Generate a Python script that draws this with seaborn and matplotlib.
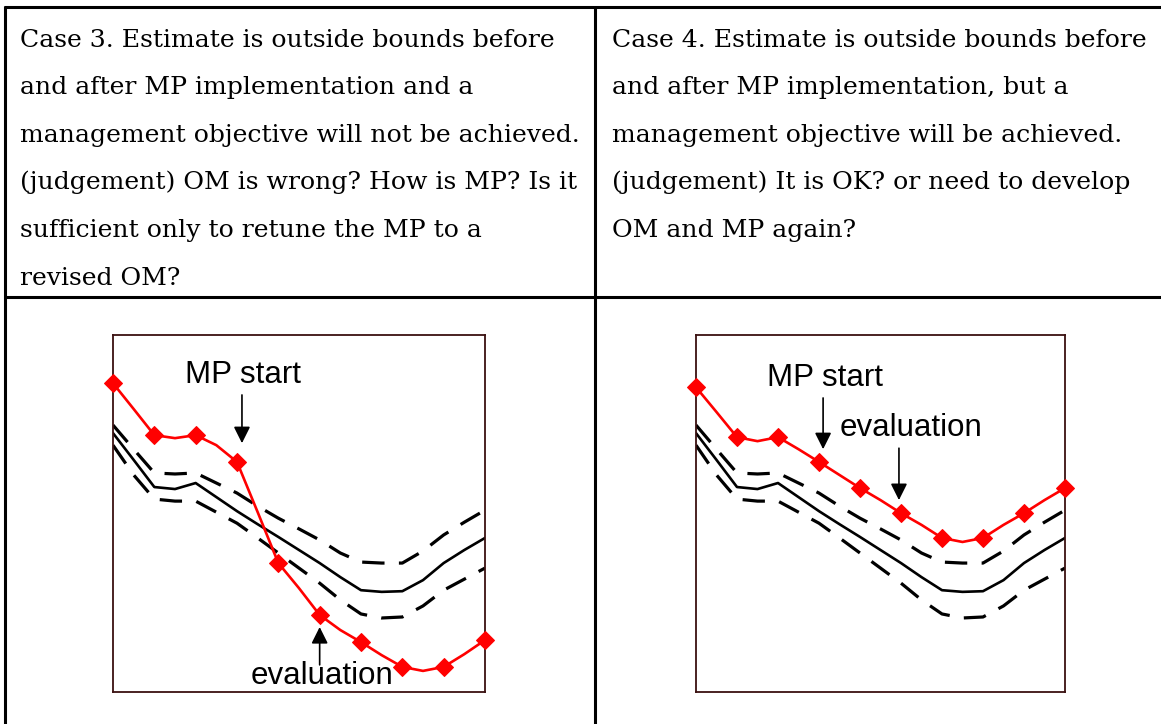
import matplotlib
matplotlib.use('Agg')
import matplotlib.pyplot as plt
from matplotlib.lines import Line2D
import seaborn as sns

# time steps along the x axis
years = [0, 1, 2, 3, 4, 5, 6, 7, 8, 9, 10, 11, 12, 13, 14, 15, 16, 17, 18]

# operating model bounds (same in both cases)
upper = [79.7, 72.5, 65.4, 65.1, 65.4, 62.4, 59.4, 55.5, 51.9, 48.7,
         45.4, 41.5, 38.8, 38.5, 38.5, 42.1, 46.9, 50.7, 54.3]
median = [77.3, 69.3, 61.2, 60.6, 62.4, 58.2, 54.0, 50.1, 46.3, 42.4,
          38.5, 34.3, 30.4, 29.9, 30.1, 33.4, 38.5, 42.4, 46.0]
lower = [73.7, 64.8, 57.6, 57.0, 57.0, 53.7, 50.4, 46.0, 41.5, 37.0,
         32.5, 27.5, 23.3, 22.1, 22.4, 25.7, 30.4, 33.7, 37.0]

# estimates
est_case3 = [92.2, 84.5, 76.7, 75.8, 76.7, 73.7, 68.7, 53.7, 38.5, 31.0,
             23.0, 18.5, 14.9, 11.0, 7.5, 6.3, 7.5, 11.3, 15.5]
est_case4 = [91.0, 83.6, 76.1, 74.9, 76.1, 72.5, 68.7, 64.8, 60.9, 57.3,
             53.4, 49.9, 46.0, 44.8, 46.0, 49.9, 53.4, 57.3, 60.9]

case3_text = [
    "Case 3. Estimate is outside bounds before",
    "and after MP implementation and a",
    "management objective will not be achieved.",
    "(judgement) OM is wrong? How is MP? Is it",
    "sufficient only to retune the MP to a",
    "revised OM?",
]
case4_text = [
    "Case 4. Estimate is outside bounds before",
    "and after MP implementation, but a",
    "management objective will be achieved.",
    "(judgement) It is OK? or need to develop",
    "OM and MP again?",
]

sns.set_style('white')
plt.rcParams['font.family'] = ['Liberation Sans', 'DejaVu Sans']
plt.rcParams['text.color'] = 'black'

W, H = 1161, 724
fig = plt.figure(figsize=(W / 100, H / 100), dpi=100)


def fx(px):
    return px / W


def fy(py):
    return 1 - py / H


# table grid
grid_kw = dict(color='black', lw=2.2, transform=fig.transFigure, solid_capstyle='butt')
fig.add_artist(Line2D([fx(4), fx(W)], [fy(7), fy(7)], **grid_kw))
fig.add_artist(Line2D([fx(4), fx(W)], [fy(297), fy(297)], **grid_kw))
fig.add_artist(Line2D([fx(5), fx(5)], [fy(6), fy(H)], **grid_kw))
fig.add_artist(Line2D([fx(595), fx(595)], [fy(6), fy(H)], **grid_kw))

for k, line in enumerate(case3_text):
    fig.text(fx(20), fy(46.7 + 47.6 * k), line, family='DejaVu Serif',
             fontsize=18.1, va='baseline', ha='left', color='black')
for k, line in enumerate(case4_text):
    fig.text(fx(612), fy(46.7 + 47.6 * k), line, family='DejaVu Serif',
             fontsize=18.1, va='baseline', ha='left', color='black')


def draw_panel(left_px, right_px, est, notes):
    ax = fig.add_axes([fx(left_px), fy(692), fx(right_px - left_px), (692 - 335) / H])
    sns.lineplot(x=years, y=upper, ax=ax, color='black', lw=2.3,
                 linestyle=(0, (7, 4.5)))
    sns.lineplot(x=years, y=median, ax=ax, color='black', lw=1.9)
    sns.lineplot(x=years, y=lower, ax=ax, color='black', lw=2.3,
                 linestyle=(0, (7, 4.5)))
    sns.lineplot(x=years, y=est, ax=ax, color='#ff0000', lw=1.9, marker='D',
                 markevery=2, markersize=9, markeredgecolor='#ff0000',
                 markerfacecolor='#ff0000', clip_on=False, zorder=5)
    ax.set_xlim(0, 18)
    ax.set_ylim(0, 106.6)
    ax.set_xticks([])
    ax.set_yticks([])
    ax.set_xlabel('')
    ax.set_ylabel('')
    for sp in ax.spines.values():
        sp.set_color('#3a1010')
        sp.set_linewidth(1.3)
        sp.set_visible(True)
    for label, tx, ty, tail, tip in notes:
        ax.text(tx, ty, label, fontsize=22.5, ha='center', va='baseline', color='black')
        ax.annotate('', xy=tip, xytext=tail,
                    arrowprops=dict(arrowstyle='-|>,head_length=0.5,head_width=0.25',
                                    color='black', lw=1.2, shrinkA=0, shrinkB=0,
                                    mutation_scale=20))
    return ax


draw_panel(113, 485, est_case3, [
    ('MP start', 6.27, 92.2, (6.24, 88.7), (6.24, 74.3)),
    ('evaluation', 10.09, 2.4, (10.0, 8.1), (10.0, 19.4)),
])
draw_panel(696, 1065, est_case4, [
    ('MP start', 6.29, 91.3, (6.2, 87.8), (6.2, 72.5)),
    ('evaluation', 10.5, 76.4, (9.9, 72.8), (9.9, 57.3)),
])

fig.savefig('out.png', dpi=100)
